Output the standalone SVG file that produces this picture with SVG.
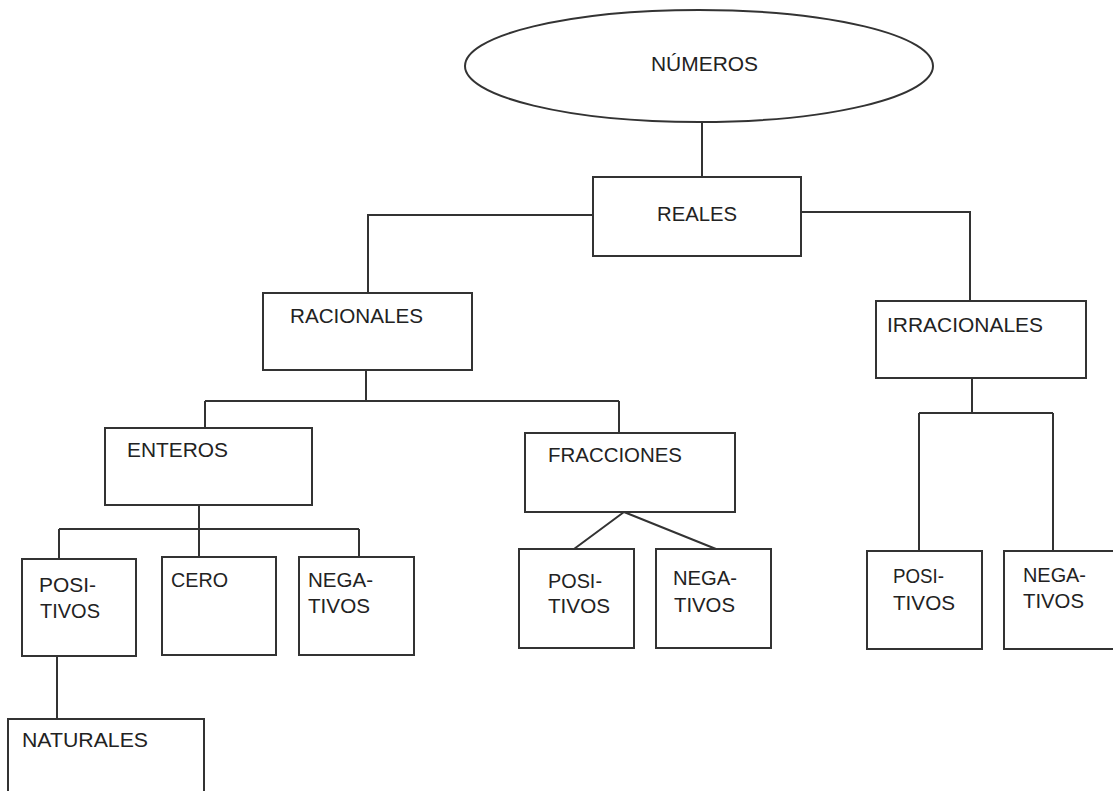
<svg xmlns="http://www.w3.org/2000/svg" width="1113" height="791" viewBox="0 0 1113 791">
<style>
.n{fill:#fff;stroke:#333;stroke-width:2}
.c{fill:none;stroke:#333;stroke-width:2}
text{font-family:"Liberation Sans","DejaVu Sans",sans-serif;font-size:20.5px;fill:#222}
</style>
<rect width="1113" height="791" fill="#fff"/>
<g id="connectors">
<path class="c" d="M702 122V177"/>
<path class="c" d="M593 215H368V293"/>
<path class="c" d="M801 212H970V301"/>
<path class="c" d="M366 370V401M205 401H619M205 401V428M619 401V433"/>
<path class="c" d="M199 505V529M59 529H359M59 529V559M199 529V557M359 529V557"/>
<path class="c" d="M624 512L574 549M624 512L716 549"/>
<path class="c" d="M972 378V413M919 413H1053M919 413V551M1053 413V551"/>
<path class="c" d="M57 656V719"/>
</g>
<g id="numeros"><ellipse class="n" cx="699" cy="66" rx="234" ry="56"/><text x="651" y="71" textLength="107" lengthAdjust="spacingAndGlyphs">NÚMEROS</text></g>
<g id="reales"><rect class="n" x="593" y="177" width="208" height="79"/><text x="657" y="221" textLength="80" lengthAdjust="spacingAndGlyphs">REALES</text></g>
<g id="racionales"><rect class="n" x="263" y="293" width="209" height="77"/><text x="290" y="323" textLength="133" lengthAdjust="spacingAndGlyphs">RACIONALES</text></g>
<g id="irracionales"><rect class="n" x="876" y="301" width="210" height="77"/><text x="887" y="332" textLength="156" lengthAdjust="spacingAndGlyphs">IRRACIONALES</text></g>
<g id="enteros"><rect class="n" x="105" y="428" width="207" height="77"/><text x="127" y="457" textLength="101" lengthAdjust="spacingAndGlyphs">ENTEROS</text></g>
<g id="fracciones"><rect class="n" x="525" y="433" width="210" height="79"/><text x="548" y="462" textLength="134" lengthAdjust="spacingAndGlyphs">FRACCIONES</text></g>
<g id="ent-positivos"><rect class="n" x="22" y="559" width="114" height="97"/><text x="39" y="592" textLength="57" lengthAdjust="spacingAndGlyphs">POSI-</text><text x="40" y="618" textLength="60" lengthAdjust="spacingAndGlyphs">TIVOS</text></g>
<g id="cero"><rect class="n" x="162" y="557" width="114" height="98"/><text x="171" y="587" textLength="57" lengthAdjust="spacingAndGlyphs">CERO</text></g>
<g id="ent-negativos"><rect class="n" x="299" y="557" width="115" height="98"/><text x="308" y="587" textLength="65" lengthAdjust="spacingAndGlyphs">NEGA-</text><text x="308" y="613" textLength="62" lengthAdjust="spacingAndGlyphs">TIVOS</text></g>
<g id="frac-positivos"><rect class="n" x="519" y="549" width="115" height="99"/><text x="548" y="588" textLength="54" lengthAdjust="spacingAndGlyphs">POSI-</text><text x="548" y="613" textLength="62" lengthAdjust="spacingAndGlyphs">TIVOS</text></g>
<g id="frac-negativos"><rect class="n" x="656" y="549" width="115" height="99"/><text x="673" y="585" textLength="64" lengthAdjust="spacingAndGlyphs">NEGA-</text><text x="674" y="612" textLength="61" lengthAdjust="spacingAndGlyphs">TIVOS</text></g>
<g id="irr-positivos"><rect class="n" x="867" y="551" width="115" height="98"/><text x="893" y="583" textLength="51" lengthAdjust="spacingAndGlyphs">POSI-</text><text x="893" y="610" textLength="62" lengthAdjust="spacingAndGlyphs">TIVOS</text></g>
<g id="irr-negativos"><rect class="n" x="1004" y="551" width="120" height="98"/><text x="1023" y="582" textLength="63" lengthAdjust="spacingAndGlyphs">NEGA-</text><text x="1023" y="608" textLength="61" lengthAdjust="spacingAndGlyphs">TIVOS</text></g>
<g id="naturales"><rect class="n" x="8" y="719" width="196" height="90"/><text x="22" y="747" textLength="126" lengthAdjust="spacingAndGlyphs">NATURALES</text></g>
</svg>
